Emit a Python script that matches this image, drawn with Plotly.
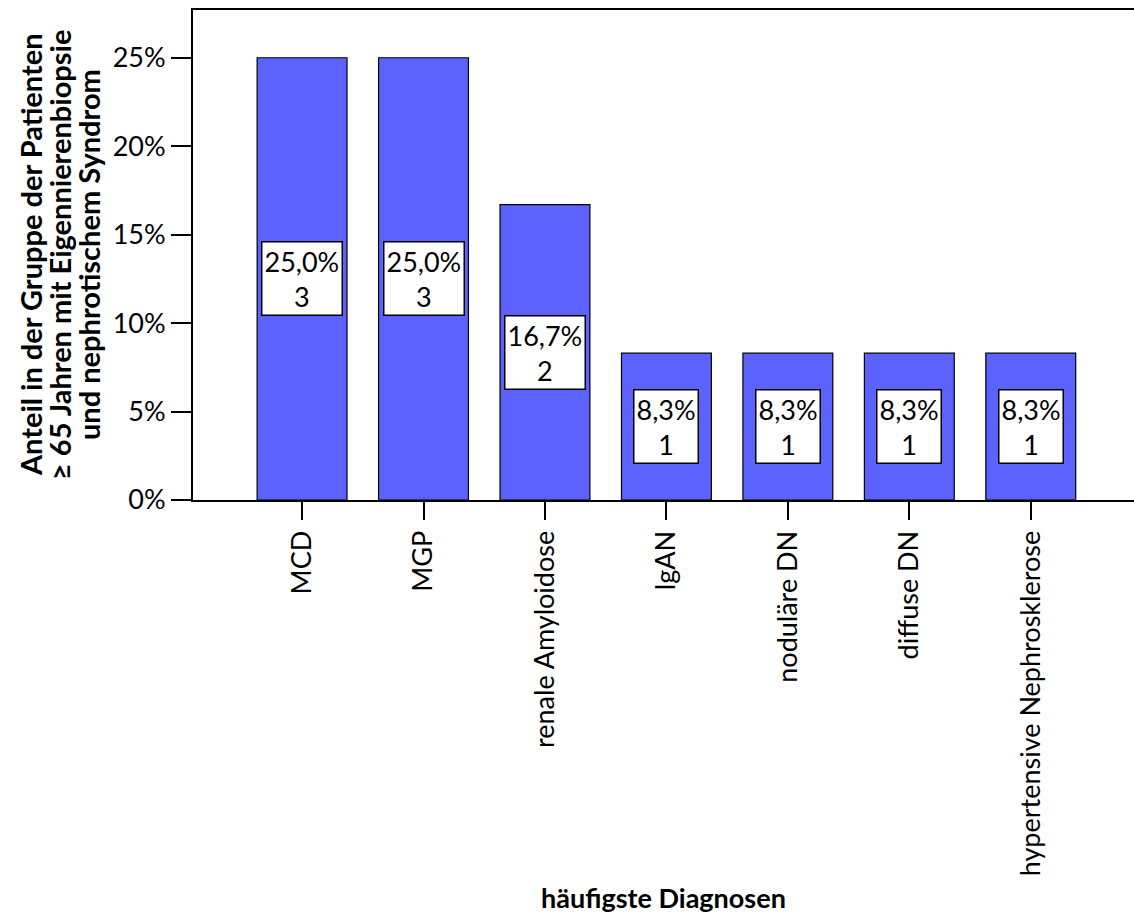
import plotly.graph_objects as go

# Häufigste Diagnosen bei Patienten >= 65 Jahre mit nephrotischem Syndrom
diagnosen = ["MCD", "MGP", "renale Amyloidose", "IgAN", "noduläre DN",
             "diffuse DN", "hypertensive Nephrosklerose"]
anteil_prozent = [25.0, 25.0, 16.7, 8.3, 8.3, 8.3, 8.3]
anzahl = [3, 3, 2, 1, 1, 1, 1]
y_ticks = [0, 5, 10, 15, 20, 25]
y_titel_zeilen = ["Anteil in der Gruppe der Patienten",
                  "≥ 65 Jahren mit Eigennierenbiopsie",
                  "und nephrotischem Syndrom"]

FONT = "Lato, 'Open Sans', sans-serif"
BAR_COLOR = "#5C62FE"
FS = 27

W, H = 1134, 914
ML, MR, MT, MB = 193, 0, 10, 414
PLOT_W = W - ML - MR

fig = go.Figure()
fig.add_trace(go.Bar(
    x=diagnosen,
    y=anteil_prozent,
    width=0.74,
    marker=dict(color=BAR_COLOR, line=dict(color="black", width=1.2)),
    hoverinfo="skip",
))

# Beschriftungskästen mittig in jedem Balken
for d, v, n in zip(diagnosen, anteil_prozent, anzahl):
    label = f"{v:.1f}".replace(".", ",") + "%<br>" + str(n)
    fig.add_annotation(
        x=d, y=v / 2, xref="x", yref="y",
        text=label, showarrow=False,
        font=dict(family=FONT, size=FS, color="black"),
        bgcolor="white", bordercolor="black", borderwidth=1.5,
        borderpad=2, align="center",
    )

# Y-Achsentitel als drei gedrehte Zeilen mit engem Zeilenabstand
for i, zeile in enumerate(y_titel_zeilen):
    px = 30 + 29 * i
    fig.add_annotation(
        x=(px - ML) / PLOT_W, y=0.5, xref="paper", yref="paper",
        text=f"<b>{zeile}</b>", showarrow=False, textangle=-90,
        xanchor="center", yanchor="middle",
        font=dict(family=FONT, size=29, color="black"),
    )

fig.update_layout(
    width=W, height=H,
    margin=dict(l=ML, r=MR, t=MT, b=MB),
    plot_bgcolor="white", paper_bgcolor="white",
    showlegend=False,
    font=dict(family=FONT, size=FS, color="black"),
    xaxis=dict(
        range=[-0.898, 6.85],
        tickangle=-90,
        ticks="outside", ticklen=18, tickwidth=2, tickcolor="black",
        showline=True, linewidth=2, linecolor="black", mirror=True,
        showgrid=False,
        tickfont=dict(family=FONT, size=FS),
        title=dict(text="<b>häufigste Diagnosen</b>", standoff=14,
                   font=dict(family=FONT, size=FS)),
    ),
    yaxis=dict(
        range=[0, 27.7],
        tickvals=y_ticks,
        ticktext=[f"{t}%" for t in y_ticks],
        ticks="outside", ticklen=20, tickwidth=2, tickcolor="black",
        showline=True, linewidth=2, linecolor="black",
        showgrid=False, zeroline=False,
        tickfont=dict(family=FONT, size=FS),
    ),
)

fig.write_html("out.html")
